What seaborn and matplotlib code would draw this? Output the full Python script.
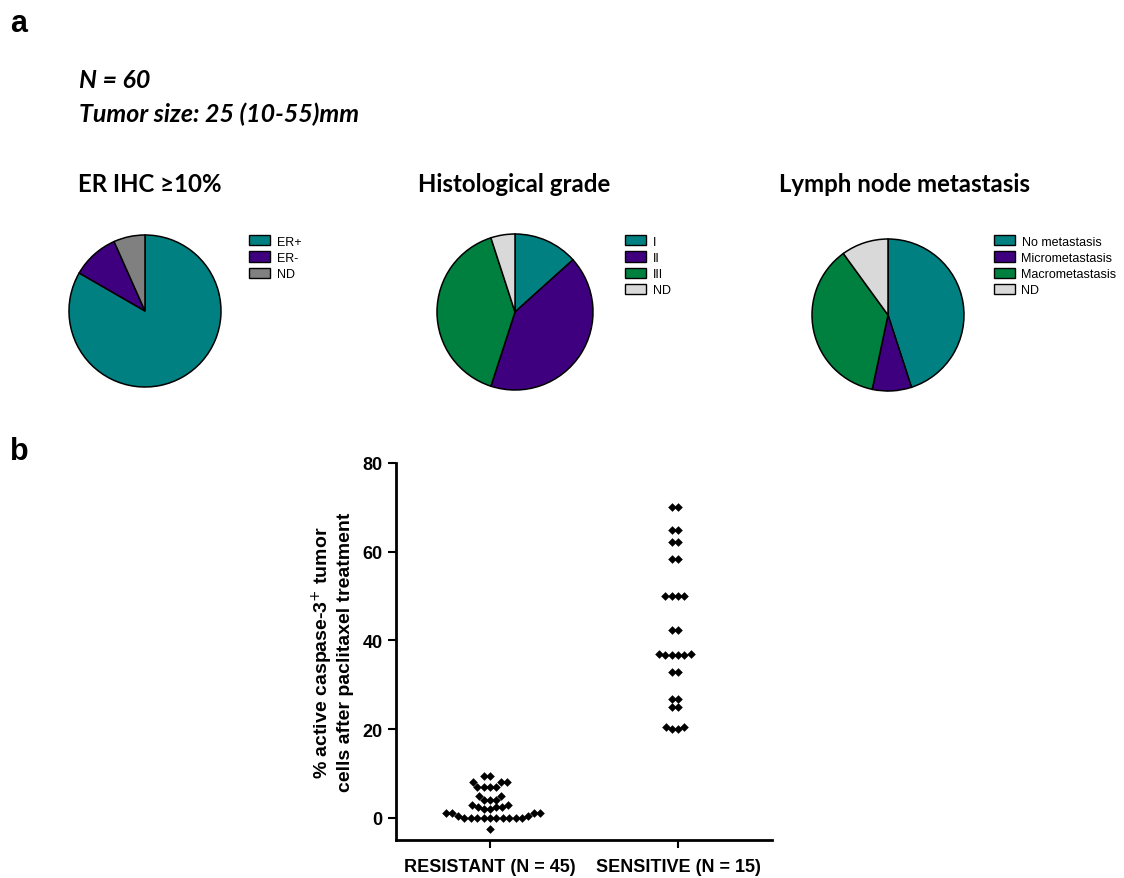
import matplotlib
matplotlib.use("Agg")
import matplotlib.pyplot as plt
from matplotlib.patches import Patch
import numpy as np
import pandas as pd
import seaborn as sns

sns.set_theme(style="white")
plt.rcParams["font.family"] = ["Liberation Sans", "DejaVu Sans"]
plt.rcParams.update({"text.color": "black", "axes.labelcolor": "black",
                     "xtick.color": "black", "ytick.color": "black"})

# ---- cohort composition (patients, N = 60) ----
er_labels = ["ER+", "ER-", "ND"]
er_counts = [50, 6, 4]

grade_labels = ["I", "II", "III", "ND"]
grade_counts = [8, 25, 24, 3]

lymph_labels = ["No metastasis", "Micrometastasis", "Macrometastasis", "ND"]
lymph_counts = [27, 5, 22, 6]

# ---- active caspase-3 after paclitaxel (%) ----
resistant_values = [9.5, 9.5,
                    8.0, 8.0, 8.0,
                    7.0, 7.0, 7.0, 7.0,
                    5.0, 5.0,
                    4.0, 4.0, 4.0,
                    3.0, 3.0,
                    2.5, 2.5, 2.5,
                    2.0, 2.0,
                    1.0, 1.0, 1.0, 1.0,
                    0.5, 0.5,
                    0.0, 0.0, 0.0, 0.0, 0.0, 0.0, 0.0, 0.0, 0.0, 0.0,
                    -2.5]
sensitive_values = [70, 70,
                    65, 65,
                    62.3, 62.3,
                    58.3, 58.3,
                    50, 50, 50, 50,
                    42.3, 42.3,
                    37, 36.7, 36.7, 36.7, 36.7, 37,
                    32.8, 32.8,
                    26.8, 26.8, 24.9, 24.9,
                    20.5, 20, 20, 20.5]
group_labels = ["RESISTANT (N = 45)", "SENSITIVE (N = 15)"]
y_ticks = [0, 20, 40, 60, 80]

TEAL = "#008080"
PURPLE = "#3F007F"
GREEN = "#00803F"
GREY = "#808080"
LIGHT = "#D9D9D9"

W, H = 1124, 879
fig = plt.figure(figsize=(W / 100, H / 100), dpi=100)


def px_axes(x0, y0, w, h):
    """Axes from pixel box (top-left origin)."""
    return fig.add_axes([x0 / W, 1 - (y0 + h) / H, w / W, h / H])


def draw_pie(cx, cy, r, counts, colors, labels, leg_x, leg_y):
    size = 2.5 * r
    ax = px_axes(cx - size / 2, cy - size / 2, size, size)
    ax.pie(counts, colors=colors, startangle=90, counterclock=False,
           wedgeprops=dict(edgecolor="black", linewidth=1.1))
    handles = [Patch(facecolor=c, edgecolor="black", linewidth=1.0, label=l)
               for c, l in zip(colors, labels)]
    fig.legend(handles=handles, loc="upper left",
               bbox_to_anchor=(leg_x / W, 1 - leg_y / H),
               frameon=False, fontsize=9, handlelength=1.7, handleheight=0.9,
               handletextpad=0.5, labelspacing=0.3, borderaxespad=0,
               borderpad=0)


draw_pie(145, 312, 76, er_counts, [TEAL, PURPLE, GREY], er_labels, 249, 236)
draw_pie(515, 313, 78, grade_counts, [TEAL, PURPLE, GREEN, LIGHT], grade_labels, 625, 236)
draw_pie(888, 316, 76, lymph_counts, [TEAL, PURPLE, GREEN, LIGHT], lymph_labels, 994, 236)

# ---- panel text ----
head_font = ["Lato", "DejaVu Sans"]
fig.text(10 / W, 1 - 24 / H, "a", fontsize=22, fontweight="bold",
         family=["Liberation Sans"], va="center")
fig.text(10 / W, 1 - 452 / H, "b", fontsize=22, fontweight="bold",
         family=["Liberation Sans"], va="center")
fig.text(79 / W, 1 - 80 / H, "N = 60", fontsize=18, fontweight="bold",
         fontstyle="italic", family=head_font, va="center")
fig.text(79 / W, 1 - 114 / H, "Tumor size: 25 (10-55)mm", fontsize=18,
         fontweight="bold", fontstyle="italic", family=head_font, va="center")
for x, t in [(78, "ER IHC ≥10%"), (418, "Histological grade"),
             (779, "Lymph node metastasis")]:
    fig.text(x / W, 1 - 185 / H, t, fontsize=17.3, fontweight="bold",
             family=head_font, va="center")

# ---- panel b: dot plot ----
df = pd.DataFrame({
    "group": [group_labels[0]] * len(resistant_values)
             + [group_labels[1]] * len(sensitive_values),
    "value": resistant_values + sensitive_values,
})
ax = px_axes(396, 464, 376, 377)
sns.swarmplot(data=df, x="group", y="value", order=group_labels, ax=ax,
              marker="D", size=4.4, color="black", linewidth=0)
ax.set_xlim(-0.5, 1.5)
ax.set_ylim(-5, 80)
ax.set_yticks(y_ticks)
ax.set_xlabel("")
ax.set_ylabel("% active caspase-3$^{+}$ tumor\ncells after paclitaxel treatment",
              fontsize=14, fontweight="bold", labelpad=6)
for side in ["top", "right"]:
    ax.spines[side].set_visible(False)
for side in ["left", "bottom"]:
    ax.spines[side].set_linewidth(2)
    ax.spines[side].set_color("black")
ax.tick_params(axis="both", which="major", direction="out", length=6,
               width=1.5, color="black", labelsize=13, left=True, bottom=True)
ax.tick_params(axis="x", pad=7)
for lab in ax.get_xticklabels() + ax.get_yticklabels():
    lab.set_fontweight("bold")

fig.savefig("out.png", dpi=100, facecolor="white")
